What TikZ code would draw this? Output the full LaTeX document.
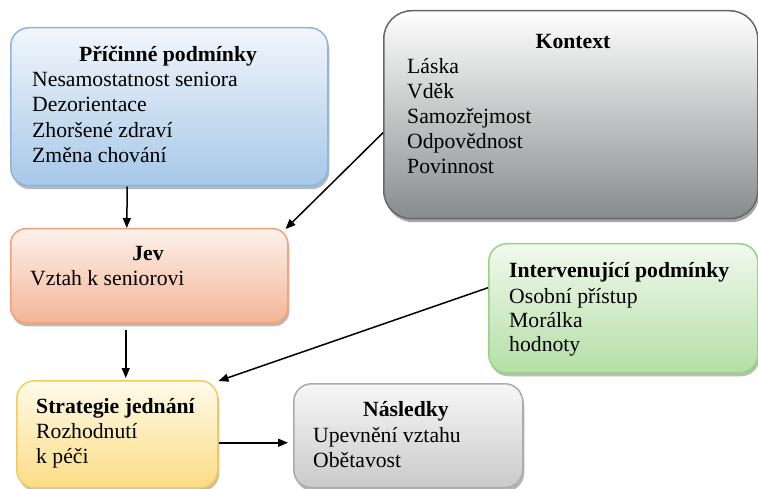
\documentclass[tikz,border=0pt]{standalone}
\usepackage{fontspec}
\setmainfont{Liberation Serif}
\usetikzlibrary{arrows.meta,shadows,calc}
\definecolor{pBord}{HTML}{8DB5DB}\definecolor{pTop}{HTML}{F2F6FB}\definecolor{pBot}{HTML}{A6C8E8}
\definecolor{jBord}{HTML}{EFA27C}\definecolor{jTop}{HTML}{FDF1EB}\definecolor{jBot}{HTML}{F3B596}
\definecolor{sBord}{HTML}{F3CC5C}\definecolor{sTop}{HTML}{FFFBEA}\definecolor{sBot}{HTML}{FCDC84}
\definecolor{nBord}{HTML}{ABABAB}\definecolor{nTop}{HTML}{F7F7F7}\definecolor{nBot}{HTML}{CACACA}
\definecolor{iBord}{HTML}{98D286}\definecolor{iTop}{HTML}{F1F9EE}\definecolor{iBot}{HTML}{B5DEA6}
\definecolor{kBord}{HTML}{666868}\definecolor{kTop}{HTML}{FFFFFF}\definecolor{kBot}{HTML}{888B8C}
\tikzset{
  box/.style n args={3}{draw=#1, top color=#2, bottom color=#3, line width=1.5pt,
    rounded corners=18pt, anchor=north west, inner sep=0pt,
    drop shadow={fill=#1!55!black, opacity=0.45, shadow xshift=1.5pt, shadow yshift=-3.5pt}},
  txt/.style={font=\fontsize{21.7}{26}\selectfont, inner sep=0pt, anchor=base west},
  ttl/.style={font=\fontsize{21.7}{26}\selectfont\bfseries, inner sep=0pt, anchor=base},
  arr/.style={line width=1.5pt, -{Triangle[length=10pt,width=8pt]}}
}
\begin{document}
\begin{tikzpicture}[x=1pt,y=-1pt]
\useasboundingbox (0,0) rectangle (758,489);
% boxes
\node[box={pBord}{pTop}{pBot}, minimum width=317pt, minimum height=158pt] (p) at (10,27) {};
\node[box={kBord}{kTop}{kBot}, rounded corners=28pt, minimum width=374pt, minimum height=208pt] (k) at (383,10) {};
\node[box={jBord}{jTop}{jBot}, rounded corners=15pt, minimum width=277pt, minimum height=94pt] (j) at (10,228) {};
\node[box={iBord}{iTop}{iBot}, minimum width=269pt, minimum height=129pt] (i) at (488,243) {};
\node[box={sBord}{sTop}{sBot}, minimum width=201pt, minimum height=107pt] (s) at (16,380) {};
\node[box={nBord}{nTop}{nBot}, minimum width=229pt, minimum height=104pt] (n) at (293,383) {};
% texts
\node[ttl] (pt) at (168,62) {Příčinné podmínky};
\node[txt] (p1) at (32,87) {Nesamostatnost seniora};
\node[txt] (p2) at (32,112) {Dezorientace};
\node[txt] (p3) at (32,138) {Zhoršené zdraví};
\node[txt] (p4) at (32,163) {Změna chování};
\node[ttl] (kt) at (573,49) {Kontext};
\node[txt] (k1) at (407,74) {Láska};
\node[txt] (k2) at (407,99) {Vděk};
\node[txt] (k3) at (407,124) {Samozřejmost};
\node[txt] (k4) at (407,149) {Odpovědnost};
\node[txt] (k5) at (407,174) {Povinnost};
\node[ttl] (jt) at (148,261) {Jev};
\node[txt] (j1) at (30,285) {Vztah k seniorovi};
\node[txt,font=\fontsize{21.7}{26}\selectfont\bfseries] (it) at (509,278) {Intervenující podmínky};
\node[txt] (i1) at (509,303) {Osobní přístup};
\node[txt] (i2) at (509,327) {Morálka};
\node[txt] (i3) at (509,351) {hodnoty};
\node[txt,font=\fontsize{21.7}{26}\selectfont\bfseries] (st) at (36,413) {Strategie jednání};
\node[txt] (s1) at (36,438) {Rozhodnutí};
\node[txt] (s2) at (36,463) {k péči};
\node[ttl] (nt) at (406,416) {Následky};
\node[txt] (n1) at (313,442) {Upevnění vztahu};
\node[txt] (n2) at (313,467) {Obětavost};
% connectors
\draw[arr] ([xshift=-42pt]p.south) -- ([xshift=-22.5pt]j.north);
\draw[arr] ([yshift=-18pt]k.west) -- ([xshift=-3pt,yshift=-1pt]j.north east);
\draw[arr] ([xshift=-23.5pt,yshift=-6pt]j.south) -- ([xshift=8.5pt,yshift=2pt]s.north);
\draw[arr] ([yshift=20.5pt]i.west) -- ([yshift=-1pt]s.north east);
\draw[arr,shorten >=5pt] ([yshift=-8.5pt]s.east) -- ([yshift=-7pt]n.west);
\end{tikzpicture}
\end{document}
